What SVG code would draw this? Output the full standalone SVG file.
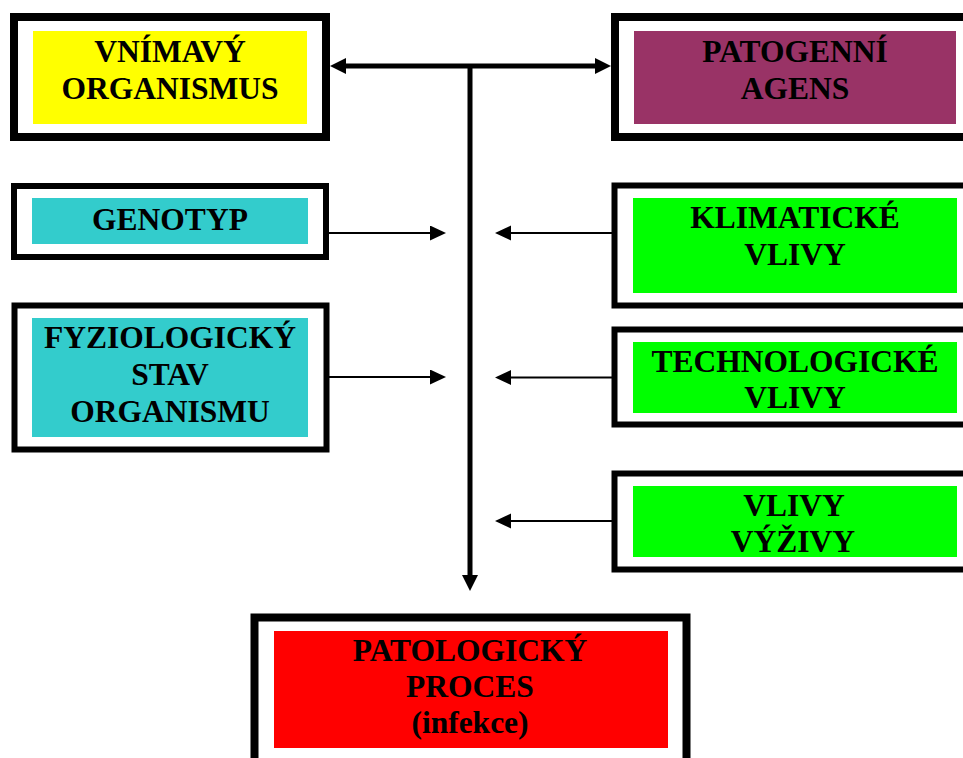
<svg xmlns="http://www.w3.org/2000/svg" width="963" height="758" viewBox="0 0 963 758">
<style>
.frame{fill:#ffffff;stroke:#000000}
.big{stroke-width:8}
.small{stroke-width:6}
.lbl{font-family:"Liberation Serif","Times New Roman",serif;font-weight:bold;font-size:31.5px;text-anchor:middle;fill:#000000}
.thick{stroke:#000000;stroke-width:5;fill:none}
.thin{stroke:#000000;stroke-width:2;fill:none}
</style>
<defs>
<marker id="ahBig" markerUnits="userSpaceOnUse" markerWidth="16" markerHeight="17" refX="0" refY="8" orient="auto-start-reverse" viewBox="0 0 16 17">
<path d="M0,0 L16,8 L0,16 Z" fill="#000000"/>
</marker>
<marker id="ahSmall" markerUnits="userSpaceOnUse" markerWidth="16" markerHeight="16" refX="0" refY="7.5" orient="auto-start-reverse" viewBox="0 0 16 16">
<path d="M0,0 L16,7.5 L0,15 Z" fill="#000000"/>
</marker>
</defs>
<rect width="963" height="758" fill="#ffffff"/>

<g id="connectors">
<line class="thick" x1="346" y1="66" x2="595" y2="66" marker-start="url(#ahBig)" marker-end="url(#ahBig)"/>
<line class="thick" x1="470" y1="64" x2="470" y2="575" marker-end="url(#ahBig)"/>
<line class="thin" x1="329" y1="233" x2="430" y2="233" marker-end="url(#ahSmall)"/>
<line class="thin" x1="329" y1="377" x2="430" y2="377" marker-end="url(#ahSmall)"/>
<line class="thin" x1="612" y1="233" x2="511" y2="233" marker-end="url(#ahSmall)"/>
<line class="thin" x1="612" y1="377.5" x2="511" y2="377.5" marker-end="url(#ahSmall)"/>
<line class="thin" x1="612" y1="521" x2="511" y2="521" marker-end="url(#ahSmall)"/>
</g>

<g id="vnimavy">
<rect class="frame big" x="14" y="17" width="312" height="120"/>
<rect x="33" y="31" width="274" height="93" fill="#ffff00"/>
<text class="lbl" x="170" y="61.5">VNÍMAVÝ</text>
<text class="lbl" x="170" y="99">ORGANISMUS</text>
</g>

<g id="patogenni">
<rect class="frame big" x="615" y="17" width="360" height="120"/>
<rect x="634" y="31" width="322" height="93" fill="#993366"/>
<text class="lbl" x="795" y="61.5">PATOGENNÍ</text>
<text class="lbl" x="795" y="99">AGENS</text>
</g>

<g id="genotyp">
<rect class="frame small" x="14" y="186" width="312" height="71"/>
<rect x="32" y="198" width="276" height="46" fill="#33cccc"/>
<text class="lbl" x="170" y="230">GENOTYP</text>
</g>

<g id="fyziologicky">
<rect class="frame small" x="14.5" y="305.5" width="312" height="144"/>
<rect x="32" y="318" width="276" height="119" fill="#33cccc"/>
<text class="lbl" x="170" y="348">FYZIOLOGICKÝ</text>
<text class="lbl" x="170" y="384.5">STAV</text>
<text class="lbl" x="170" y="422">ORGANISMU</text>
</g>

<g id="klimaticke">
<rect class="frame small" x="614.5" y="185.5" width="370" height="120"/>
<rect x="633" y="198" width="324" height="95" fill="#00ff00"/>
<text class="lbl" x="795" y="227.5">KLIMATICKÉ</text>
<text class="lbl" x="795" y="265">VLIVY</text>
</g>

<g id="technologicke">
<rect class="frame small" x="614.5" y="329.5" width="370" height="95"/>
<rect x="633" y="342" width="324" height="71" fill="#00ff00"/>
<text class="lbl" x="795" y="371.5">TECHNOLOGICKÉ</text>
<text class="lbl" x="795" y="408">VLIVY</text>
</g>

<g id="vyziva">
<rect class="frame small" x="614.5" y="473.5" width="370" height="96"/>
<rect x="633" y="486" width="324" height="71" fill="#00ff00"/>
<text class="lbl" x="794" y="515.5">VLIVY</text>
<text class="lbl" x="793" y="552">VÝŽIVY</text>
</g>

<g id="patologicky">
<rect class="frame big" x="254.5" y="617.5" width="432" height="150"/>
<rect x="274" y="631" width="394" height="117" fill="#ff0000"/>
<text class="lbl" x="470" y="661">PATOLOGICKÝ</text>
<text class="lbl" x="470" y="697">PROCES</text>
<text class="lbl" x="470" y="733">(infekce)</text>
</g>
</svg>
